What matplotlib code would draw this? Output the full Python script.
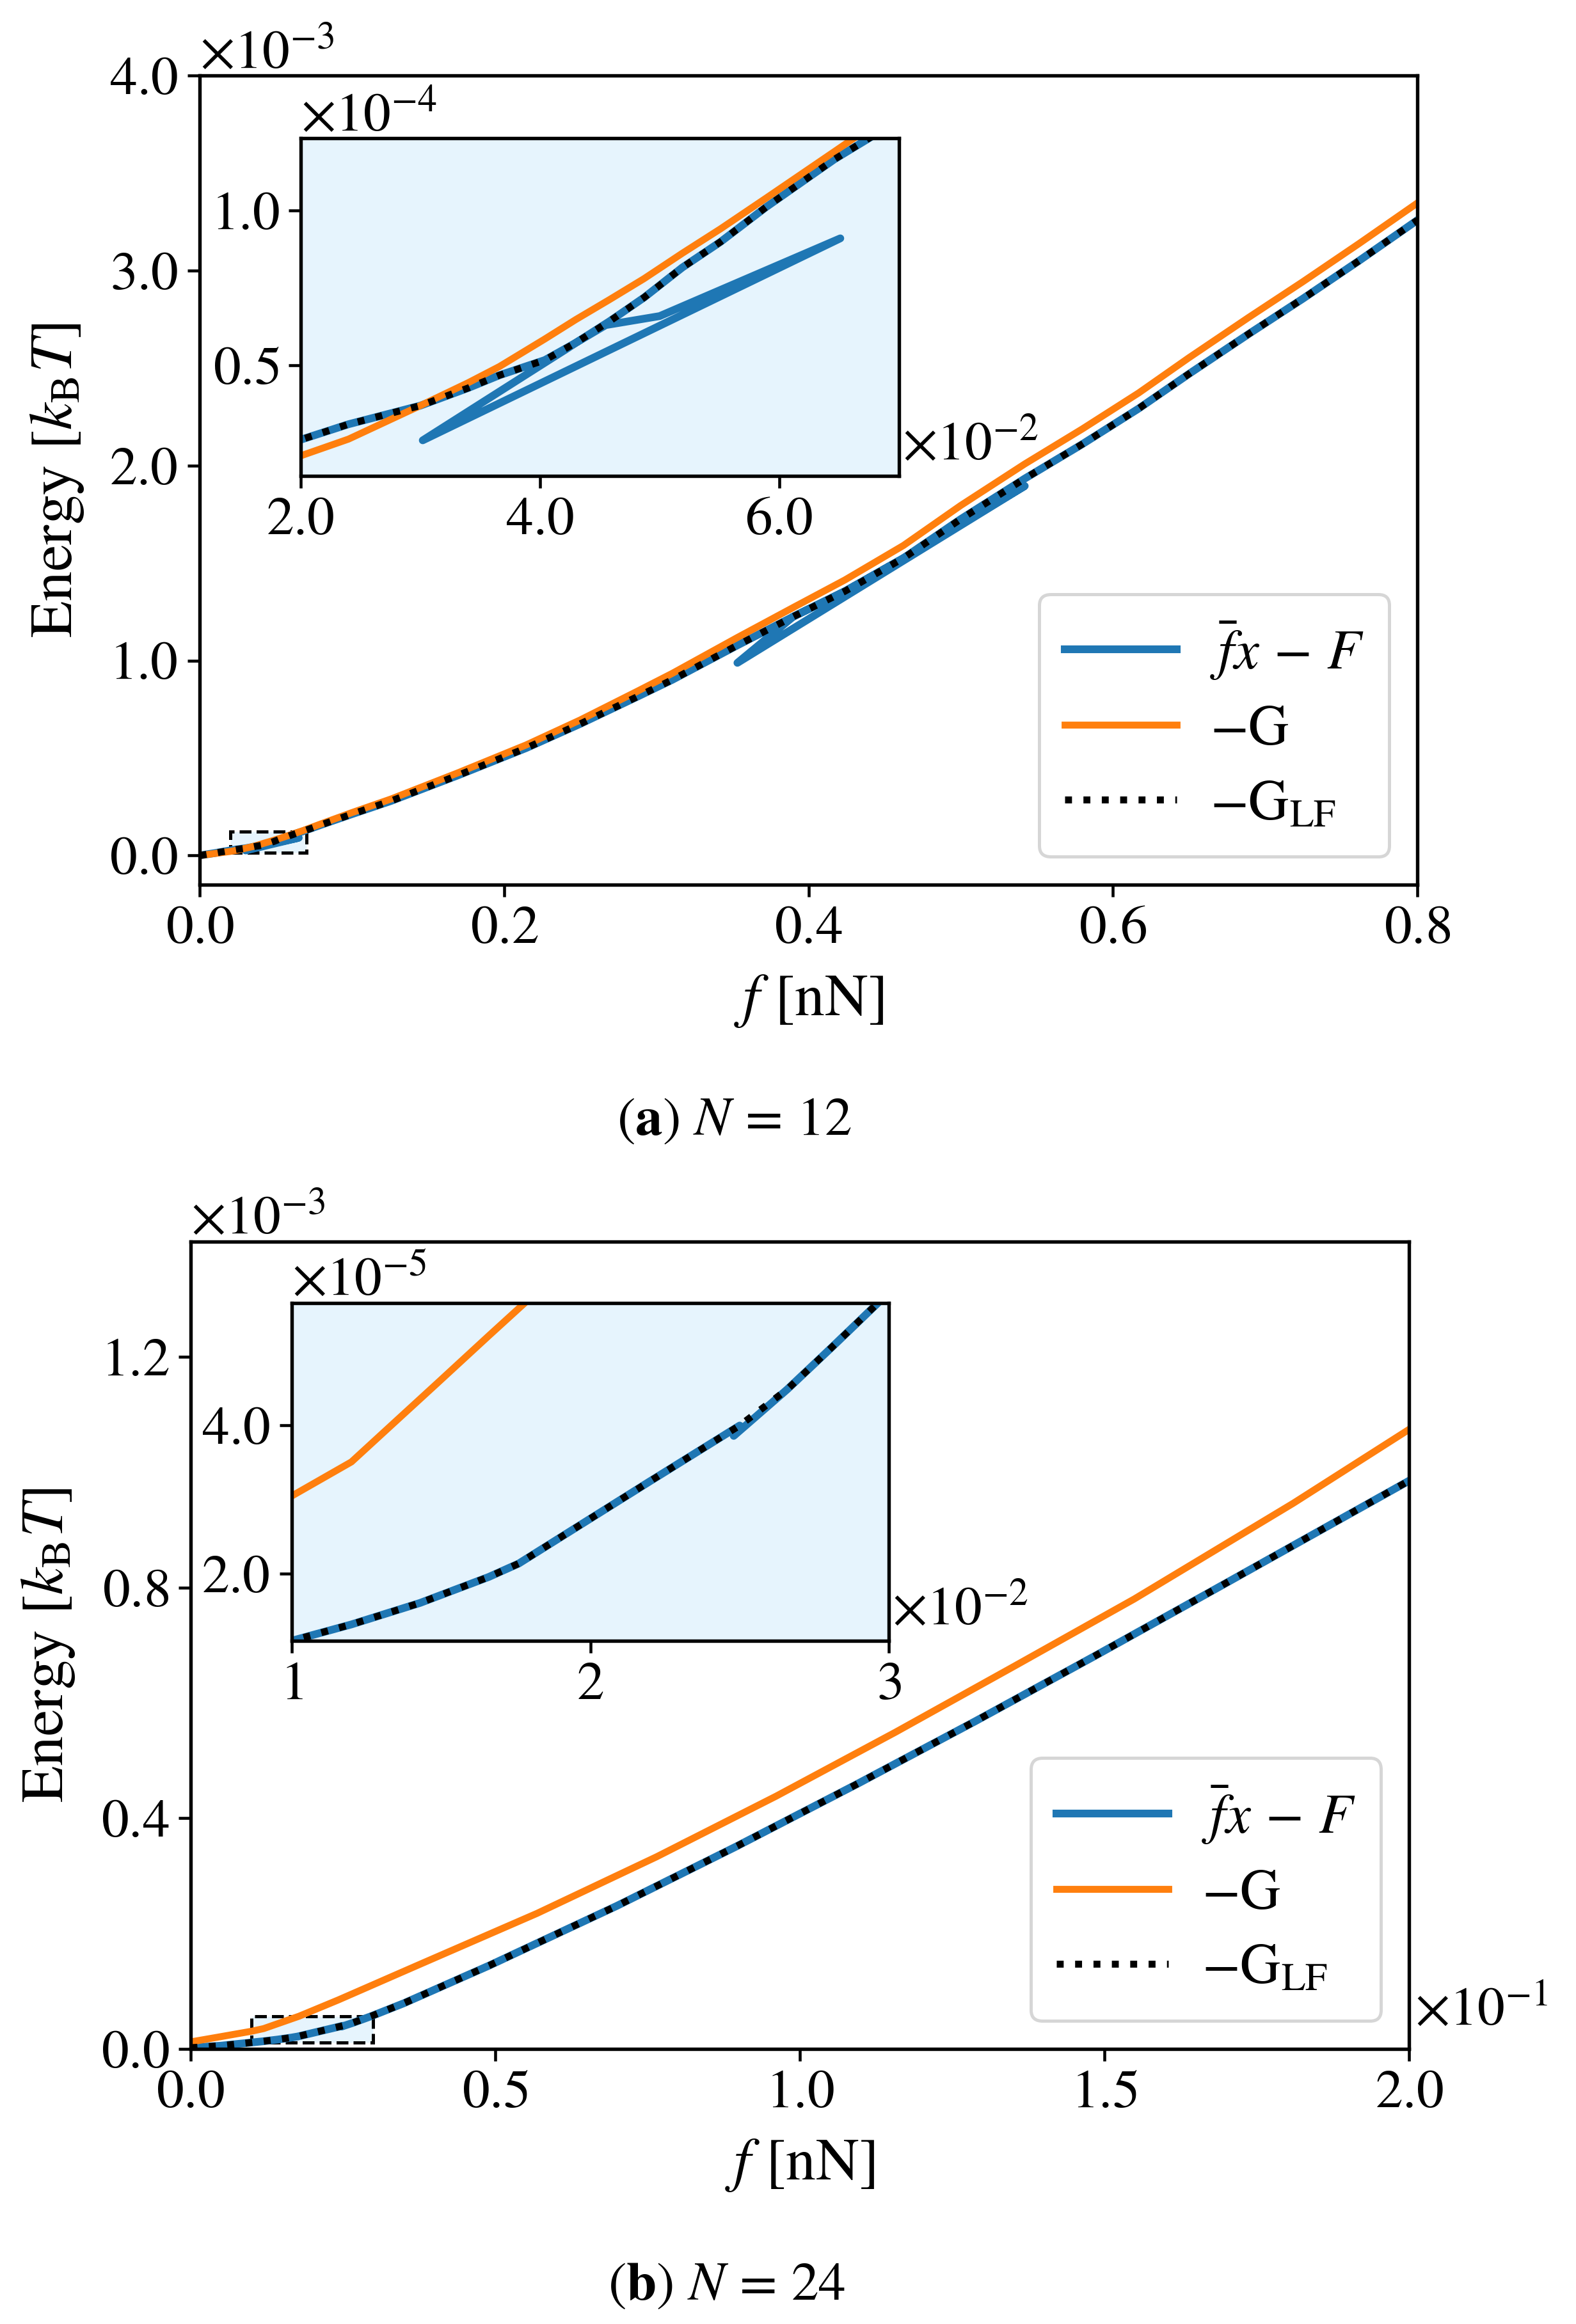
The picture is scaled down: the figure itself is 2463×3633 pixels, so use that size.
import matplotlib
matplotlib.use('Agg')
import matplotlib.pyplot as plt
from matplotlib.ticker import ScalarFormatter
from matplotlib.patches import Rectangle

plt.rcParams['font.family'] = ['STIXGeneral', 'DejaVu Serif']
plt.rcParams['mathtext.fontset'] = 'stix'
plt.rcParams['axes.formatter.use_mathtext'] = True

# ---------------- panel (a): N = 12 ----------------
f_a = [0.0, 0.01, 0.02, 0.024, 0.03, 0.034, 0.0366, 0.0404, 0.043, 0.0458,
       0.0487, 0.0519, 0.0551, 0.0589, 0.0646, 0.068, 0.08, 0.1, 0.1258, 0.17,
       0.2145, 0.25, 0.2877, 0.3105, 0.3533, 0.39, 0.4239, 0.4624, 0.5, 0.5421,
       0.58, 0.6169, 0.65, 0.6893, 0.7247, 0.7617, 0.8]
G_LF_a = [0.0, 0.0125e-3, 0.026e-3, 0.031e-3, 0.037e-3, 0.0427e-3, 0.0468e-3, 0.0517e-3,
          0.0573e-3, 0.0642e-3, 0.0719e-3, 0.0816e-3, 0.0899e-3, 0.1011e-3, 0.1165e-3,
          0.1245e-3, 0.158e-3, 0.212e-3, 0.280e-3, 0.412e-3, 0.551e-3, 0.675e-3, 0.815e-3,
          0.901e-3, 1.078e-3, 1.225e-3, 1.355e-3, 1.525e-3, 1.725e-3, 1.933e-3, 2.11e-3,
          2.292e-3, 2.47e-3, 2.675e-3, 2.855e-3, 3.05e-3, 3.258e-3]
G_a = [0.0, 0.0103e-3, 0.0208e-3, 0.0262e-3, 0.0370e-3, 0.0444e-3, 0.0496e-3, 0.0585e-3,
       0.0648e-3, 0.0712e-3, 0.0780e-3, 0.0862e-3, 0.0941e-3, 0.1040e-3, 0.1190e-3,
       0.128e-3, 0.163e-3, 0.220e-3, 0.290e-3, 0.425e-3, 0.567e-3, 0.695e-3, 0.843e-3,
       0.934e-3, 1.118e-3, 1.272e-3, 1.413e-3, 1.59e-3, 1.795e-3, 2.008e-3, 2.188e-3,
       2.372e-3, 2.553e-3, 2.76e-3, 2.942e-3, 3.138e-3, 3.346e-3]
# fbar*x - F (with back-tracking branches)
fbar_a = [0.0, 0.01, 0.02, 0.024, 0.03, 0.034, 0.0366, 0.0404, 0.043, 0.0455,
          0.05, 0.0651, 0.0302, 0.0423, 0.043, 0.0458, 0.0487, 0.0519, 0.0551, 0.0589,
          0.0646, 0.068, 0.08, 0.1, 0.1258, 0.17, 0.2145, 0.25, 0.2877, 0.3105,
          0.3533, 0.39, 0.4239, 0.4624, 0.5421, 0.3533, 0.39, 0.4239, 0.4624, 0.5,
          0.5421, 0.58, 0.6169, 0.65, 0.6893, 0.7247, 0.7617, 0.8]
fxF_a = [0.0, 0.0125e-3, 0.026e-3, 0.031e-3, 0.037e-3, 0.0427e-3, 0.0468e-3, 0.0517e-3,
         0.0573e-3, 0.0630e-3, 0.0659e-3, 0.0910e-3, 0.0258e-3, 0.0555e-3, 0.0573e-3,
         0.0642e-3, 0.0719e-3, 0.0816e-3, 0.0899e-3, 0.1011e-3, 0.1165e-3, 0.1245e-3,
         0.158e-3, 0.212e-3, 0.280e-3, 0.412e-3, 0.551e-3, 0.675e-3, 0.815e-3, 0.901e-3,
         1.078e-3, 1.225e-3, 1.355e-3, 1.525e-3, 1.895e-3, 0.988e-3, 1.225e-3, 1.355e-3,
         1.525e-3, 1.725e-3, 1.933e-3, 2.11e-3, 2.292e-3, 2.47e-3, 2.675e-3, 2.855e-3,
         3.05e-3, 3.258e-3]

# ---------------- panel (b): N = 24 ----------------
f_b = [0.0, 0.005, 0.01, 0.012, 0.0143, 0.0166, 0.0176, 0.0197, 0.022, 0.025,
       0.0266, 0.0281, 0.0296, 0.035, 0.0491, 0.07, 0.0896, 0.1092, 0.1288, 0.1484,
       0.168, 0.2]
G_LF_b = [0.002e-3, 0.0055e-3, 0.0110e-3, 0.0132e-3, 0.0161e-3, 0.0196e-3, 0.0214e-3,
          0.0267e-3, 0.0325e-3, 0.0400e-3, 0.0449e-3, 0.0506e-3, 0.0564e-3, 0.079e-3,
          0.1448e-3, 0.248e-3, 0.351e-3, 0.458e-3, 0.568e-3, 0.681e-3, 0.796e-3, 0.985e-3]
fG_b = [0.0, 0.005, 0.01, 0.012, 0.0133, 0.0149, 0.0166, 0.0178, 0.0243, 0.0373,
        0.0569, 0.0765, 0.0961, 0.1157, 0.1353, 0.1549, 0.181, 0.2]
G_b = [0.012e-3, 0.0212e-3, 0.0305e-3, 0.0351e-3, 0.0399e-3, 0.0458e-3, 0.0521e-3,
       0.0565e-3, 0.085e-3, 0.145e-3, 0.235e-3, 0.333e-3, 0.438e-3, 0.549e-3, 0.664e-3,
       0.780e-3, 0.946e-3, 1.074e-3]
fbar_b = [0.0, 0.005, 0.01, 0.012, 0.0143, 0.0166, 0.0176, 0.0197, 0.022, 0.025,
          0.0248, 0.0266, 0.0281, 0.0296, 0.035, 0.0491, 0.07, 0.0896, 0.1092, 0.1288,
          0.1484, 0.168, 0.2]
fxF_b = [0.002e-3, 0.0055e-3, 0.0110e-3, 0.0132e-3, 0.0161e-3, 0.0196e-3, 0.0214e-3,
         0.0267e-3, 0.0325e-3, 0.0400e-3, 0.0386e-3, 0.0449e-3, 0.0506e-3, 0.0564e-3,
         0.079e-3, 0.1448e-3, 0.248e-3, 0.351e-3, 0.458e-3, 0.568e-3, 0.681e-3,
         0.796e-3, 0.985e-3]

labels = [r'$\bar{f}x\,-\,F$', r'$-\mathrm{G}$', r'$-\mathrm{G}_{\mathrm{LF}}$']
xlabel = r'$f$ [nN]'
ylabel = r'Energy [$k_{\mathrm{B}}T$]'
captions = [r'($\mathbf{a}$) $N\,=\,12$', r'($\mathbf{b}$) $N\,=\,24$']

BLUE = '#1f77b4'
ORANGE = '#ff7f0e'
INSET_BG = '#e6f4fd'
TICK_FS = 20.5
LABEL_FS = 22.5
LEG_FS = 21
CAP_FS = 20.5


class Fmt(ScalarFormatter):
    def __init__(self, fmt=None, sci=True):
        super().__init__(useMathText=True)
        self._fixed = fmt
        if sci:
            self.set_powerlimits((0, 0))

    def _set_format(self):
        if self._fixed is None:
            super()._set_format()
        else:
            self.format = self._fixed


def style(ax):
    for s in ax.spines.values():
        s.set_linewidth(1.3)
    ax.tick_params(which='major', length=4.5, width=1.1, labelsize=TICK_FS)
    ax.yaxis.get_offset_text().set_fontsize(TICK_FS)
    ax.xaxis.get_offset_text().set_fontsize(TICK_FS)


def draw_curves(ax, fb, fxf, fg, g, flf, glf):
    ax.plot(fb, fxf, color=BLUE, lw=2.9, label=labels[0], zorder=2)
    ax.plot(fg, g, color=ORANGE, lw=2.6, label=labels[1], zorder=2.1)
    ax.plot(flf, glf, color='k', lw=2.6, ls=':', label=labels[2], zorder=2.2)


fig = plt.figure(figsize=(2463 / 300, 3633 / 300), dpi=300)

configs = [
    dict(main=[0.1267, 0.6193, 0.7726, 0.3482], inset=[0.1908, 0.7952, 0.3796, 0.1453],
         data=(fbar_a, fxF_a, f_a, G_a, f_a, G_LF_a),
         xlim=(0.0, 0.8), ylim=(-1.5e-4, 4.0e-3),
         xticks=[0.0, 0.2, 0.4, 0.6, 0.8], yticks=[0.0, 1e-3, 2e-3, 3e-3, 4e-3],
         xfmt=Fmt(None, sci=False), yfmt=Fmt('%.1f'),
         ixlim=(0.02, 0.07), iylim=(1.43e-5, 1.233e-4),
         ixticks=[0.02, 0.04, 0.06], iyticks=[0.5e-4, 1.0e-4],
         ixfmt=Fmt('%.1f'), iyfmt=Fmt(None), cap=(0.466, 0.5172), xoff=False),
    dict(main=[0.1209, 0.1184, 0.7731, 0.3474], inset=[0.1851, 0.2940, 0.3790, 0.1453],
         data=(fbar_b, fxF_b, fG_b, G_b, f_b, G_LF_b),
         xlim=(0.0, 0.2), ylim=(0.0, 1.4e-3),
         xticks=[0.0, 0.05, 0.1, 0.15, 0.2], yticks=[0.0, 0.4e-3, 0.8e-3, 1.2e-3],
         xfmt=Fmt(None), yfmt=Fmt(None),
         ixlim=(0.01, 0.03), iylim=(1.1e-5, 5.65e-5),
         ixticks=[0.01, 0.02, 0.03], iyticks=[2e-5, 4e-5],
         ixfmt=Fmt(None), iyfmt=Fmt('%.1f'), cap=(0.461, 0.016), xoff=True),
]

offset_jobs = []
for i, c in enumerate(configs):
    ax = fig.add_axes(c['main'])
    draw_curves(ax, *c['data'])
    ax.set_xlim(*c['xlim'])
    ax.set_ylim(*c['ylim'])
    ax.set_xticks(c['xticks'])
    ax.set_yticks(c['yticks'])
    ax.xaxis.set_major_formatter(c['xfmt'])
    ax.yaxis.set_major_formatter(c['yfmt'])
    style(ax)
    ax.set_xlabel(xlabel, fontsize=LABEL_FS, labelpad=7)
    ax.set_ylabel(ylabel, fontsize=LABEL_FS, labelpad=9)
    x0, x1 = c['ixlim']
    y0, y1 = c['iylim']
    ax.add_patch(Rectangle((x0, y0), x1 - x0, y1 - y0, facecolor=INSET_BG,
                           edgecolor='k', ls='--', lw=1.2, zorder=1.5))
    leg = ax.legend(loc='lower right', fontsize=LEG_FS, handlelength=2.0,
                    borderpad=0.45, labelspacing=0.42, handletextpad=0.6)
    leg.get_frame().set_linewidth(1.2)

    ins = fig.add_axes(c['inset'])
    ins.set_facecolor(INSET_BG)
    draw_curves(ins, *c['data'])
    ins.set_xlim(x0, x1)
    ins.set_ylim(y0, y1)
    ins.set_xticks(c['ixticks'])
    ins.set_yticks(c['iyticks'])
    ins.xaxis.set_major_formatter(c['ixfmt'])
    ins.yaxis.set_major_formatter(c['iyfmt'])
    style(ins)
    offset_jobs.append((ins, c['ixfmt']))
    if c['xoff']:
        offset_jobs.append((ax, c['xfmt']))

    fig.text(c['cap'][0], c['cap'][1], captions[i], ha='center', va='center',
             fontsize=CAP_FS)

# place the x offset texts to the right of the axes, as in the reference
fig.canvas.draw()
for a, fm in offset_jobs:
    s = fm.get_offset()
    a.xaxis.get_offset_text().set_visible(False)
    a.text(1.005, 0.015, s, transform=a.transAxes, ha='left', va='bottom',
           fontsize=TICK_FS)

fig.savefig('out.png', dpi=300)
